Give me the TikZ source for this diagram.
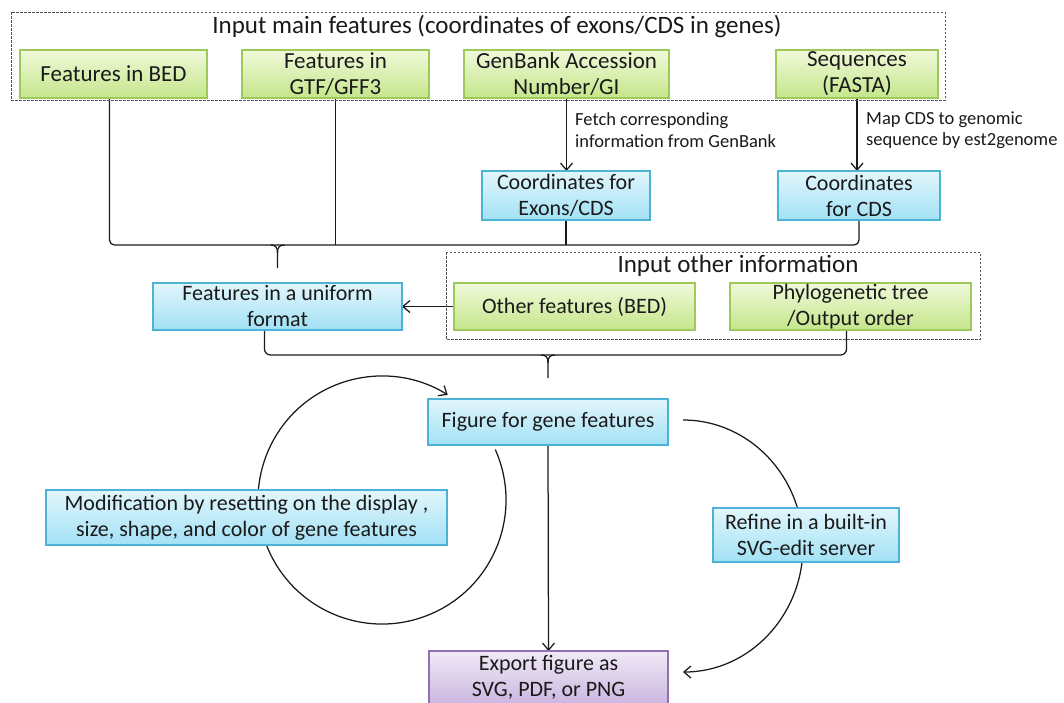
\documentclass[tikz,border=0pt]{standalone}
\usepackage{fontspec}
\setmainfont{Carlito}
\usetikzlibrary{arrows.meta,backgrounds,calc}
\definecolor{gtop}{HTML}{F0F9DA}
\definecolor{gbot}{HTML}{C4E68A}
\definecolor{gborder}{HTML}{9DC85A}
\definecolor{btop}{HTML}{E2F6FC}
\definecolor{bbot}{HTML}{A2E1F5}
\definecolor{bborder}{HTML}{4DB3D6}
\definecolor{ptop}{HTML}{F0EAF6}
\definecolor{pbot}{HTML}{CBB6E0}
\definecolor{pborder}{HTML}{8E70B4}
\definecolor{dashgray}{HTML}{555555}
\definecolor{ink}{HTML}{1A1A1A}
\begin{document}
\begin{tikzpicture}[x=1pt,y=-1pt,
  box/.style={draw, line width=1.1pt, inner sep=0pt, outer sep=0pt, align=center,
    text=ink, font=\fontsize{22}{26}\selectfont, anchor=north west},
  big/.style={font=\fontsize{23}{26}\selectfont},
  gbox/.style={box, draw=gborder, top color=gtop, bottom color=gbot},
  bbox/.style={box, draw=bborder, top color=btop, bottom color=bbot},
  pbox/.style={box, draw=pborder, top color=ptop, bottom color=pbot},
  grp/.style={draw=dashgray, dash pattern=on 2.5pt off 1.5pt, line width=0.8pt},
  conn/.style={draw=ink, line width=1.25pt},
  arr/.style={conn, -{Straight Barb[length=7pt,width=12pt]}},
  lbl/.style={font=\fontsize{18.5}{21.5}\selectfont, align=left, anchor=west, text=ink, inner sep=0pt},
  head/.style={font=\fontsize{25}{28}\selectfont, anchor=base, text=ink, inner sep=0pt},
]
\useasboundingbox (0,0) rectangle (1064,702);

% group frames
\draw[grp] (11,12) rectangle (945,100);
\draw[grp] (446,252) rectangle (980,339);

% headings
\node[head] (h1) at (497,33) {Input main features (coordinates of exons/CDS in genes)};
\node[head] (h2) at (738,272) {Input other information};

% input boxes
\node[gbox, big, minimum width=187pt, minimum height=48pt] (bed) at (20,50) {Features in BED};
\node[gbox, big, minimum width=187pt, minimum height=48pt] (gtf) at (242,50) {Features in\\GTF/GFF3};
\node[gbox, big, minimum width=205pt, minimum height=48pt] (gb) at (464,50) {GenBank Accession\\Number/GI};
\node[gbox, big, minimum width=162pt, minimum height=48pt] (seq) at (776,50) {Sequences\\(FASTA)};

\node[bbox, minimum width=168pt, minimum height=49pt] (cex) at (482,171) {Coordinates for\\Exons/CDS};
\node[bbox, minimum width=162pt, minimum height=49pt] (ccds) at (778,171) {Coordinates\\for CDS};

\node[lbl] (l1) at (575,130) {Fetch corresponding\\information from GenBank};
\node[lbl] (l2) at (866,130) {Map CDS to genomic\\sequence by est2genome};

\node[bbox, minimum width=249pt, minimum height=47pt] (uni) at (153,283) {Features in a uniform\\format};
\node[gbox, minimum width=241pt, minimum height=47pt] (oth) at (454,283) {Other features (BED)};
\node[gbox, minimum width=241pt, minimum height=47pt] (phy) at (730,283) {Phylogenetic tree\\/Output order};

\node[bbox, minimum width=240pt, minimum height=46pt] (fig) at (428,399) {Figure for gene features};
\node[bbox, minimum width=401pt, minimum height=55pt] (mod) at (46,490) {Modification by resetting on the display ,\\size, shape, and color of gene features};
\node[bbox, minimum width=186pt, minimum height=54pt] (ref) at (713,508) {Refine in a built-in\\SVG-edit server};
\node[pbox, minimum width=239pt, minimum height=53pt] (exp) at (429,651) {Export figure as\\SVG, PDF, or PNG};

\begin{scope}[on background layer]
  % arrows to coordinates
  \draw[arr] (gb.south) -- (gb.south |- cex.north);
  \draw[arr] (seq.south) -- (seq.south |- ccds.north);
  % upper bracket
  \coordinate (ub) at (0,245);
  \coordinate (bl) at ($(bed.south)+(-4,0)$);
  \draw[conn, rounded corners=5pt] (bl) -- (bl |- ub) -- (ccds.south |- ub) -- (ccds.south);
  \draw[conn, line width=0.9pt] (gtf.south) -- (gtf.south |- ub);
  \draw[conn] (cex.south) -- (cex.south |- ub);
  \coordinate (tip1) at (uni.north |- ub);
  \draw[conn] ($(tip1)+(-7,0)$) .. controls ($(tip1)+(-2,0)$) and ($(tip1)+(0,2)$) .. ($(tip1)+(0,8)$) -- ($(uni.north)+(0,-15)$);
  \draw[conn] ($(tip1)+(7,0)$) .. controls ($(tip1)+(2,0)$) and ($(tip1)+(0,2)$) .. ($(tip1)+(0,8)$);
  % other features into uniform format
  \draw[arr] (oth.west) -- (uni.east);
  % lower bracket
  \coordinate (lb) at (0,355);
  \coordinate (ul) at ($(uni.south)+(-13,0)$);
  \coordinate (pl) at ($(phy.south)+(-4,0)$);
  \draw[conn, rounded corners=6pt] (ul) -- (ul |- lb) -- (pl |- lb) -- (pl);
  \coordinate (tip2) at (fig.north |- lb);
  \draw[conn] ($(tip2)+(-7,0)$) .. controls ($(tip2)+(-2,0)$) and ($(tip2)+(0,2)$) .. ($(tip2)+(0,8)$) -- ($(fig.north)+(0,-21)$);
  \draw[conn] ($(tip2)+(7,0)$) .. controls ($(tip2)+(2,0)$) and ($(tip2)+(0,2)$) .. ($(tip2)+(0,8)$);
  % figure to export
  \draw[arr] (fig.south) -- (exp.north);
  % modification loop
  \coordinate (cc) at (382,500);
  \coordinate (ls) at ($(cc)+(-24:124)$);
  \draw[arr] (ls) arc[start angle=-24, end angle=302, radius=124];
  % refine arc
  \coordinate (rs) at ($(fig.east)+(15,-2)$);
  \draw[arr] (rs) arc[start angle=-90, end angle=90, x radius=120, y radius=126];
\end{scope}
\end{tikzpicture}
\end{document}
